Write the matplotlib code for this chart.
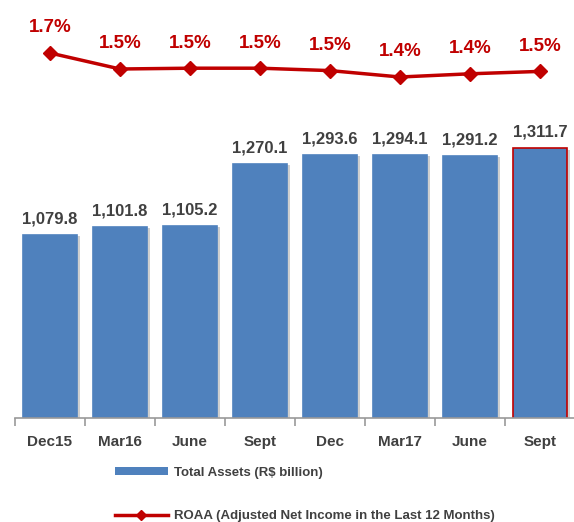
import numpy as np
import matplotlib.pyplot as plt
from matplotlib.lines import Line2D
from matplotlib.patches import Patch
import matplotlib.patheffects as pe

plt.rcParams['font.family'] = ['Liberation Sans', 'DejaVu Sans']
plt.rcParams['font.weight'] = 'bold'

# data
periods = ['Dec15', 'Mar16', 'June', 'Sept', 'Dec', 'Mar17', 'June', 'Sept']
assets = [1079.8, 1101.8, 1105.2, 1270.1, 1293.6, 1294.1, 1291.2, 1311.7]
roaa = [1.70, 1.50, 1.51, 1.51, 1.48, 1.40, 1.44, 1.47]
roaa_labels = ['1.7%', '1.5%', '1.5%', '1.5%', '1.5%', '1.4%', '1.4%', '1.5%']

blue = '#4F81BD'
red = '#C00000'
grey = '#404040'

fig = plt.figure(figsize=(5.74, 5.22), dpi=100)
ax = fig.add_axes([15/574, 1 - 418/522, 560/574, 418/522])
x = np.arange(len(periods))

edges = [blue] * (len(periods) - 1) + [red]
bars = ax.bar(x, assets, width=0.78, color=blue, edgecolor=edges, linewidth=1.2, zorder=2)
for b in bars:
    b.set_path_effects([pe.SimplePatchShadow(offset=(2, -1), shadow_rgbFace='#b0b0b0', alpha=0.6), pe.Normal()])
for xi, v in zip(x, assets):
    ax.annotate(f'{v:,.1f}', (xi, v), xytext=(0, 6), textcoords='offset points',
                ha='center', va='bottom', fontsize=12, color=grey, fontweight='bold')

ax.set_xlim(-0.5, 7.5)
ax.set_ylim(592, 592 + 418 / 0.375)
ax.set_yticks([])
ax.set_xticks(x)
ax.set_xticklabels(periods, fontsize=11, color=grey, fontweight='bold')
ax.set_xticks(np.arange(-0.5, 7.5, 1), minor=True)
ax.tick_params(axis='x', which='major', length=0, pad=12)
ax.tick_params(axis='x', which='minor', length=6, color='#999999', width=1.2)
for s in ['top', 'right', 'left']:
    ax.spines[s].set_visible(False)
ax.spines['bottom'].set_color('#999999')
ax.spines['bottom'].set_linewidth(1.2)

ax2 = ax.twinx()
top = 1.7 + 53 / 80
ax2.set_ylim(top - 418 / 80, top)
ax2.plot(x, roaa, color=red, lw=2.5, marker='D', ms=7, zorder=3)
for xi, v, lab in zip(x, roaa, roaa_labels):
    ax2.annotate(lab, (xi, v), xytext=(0, 12), textcoords='offset points',
                 ha='center', va='bottom', fontsize=13.5, color=red, fontweight='bold')
ax2.axis('off')

handles = [Patch(facecolor=blue, edgecolor='none'),
           Line2D([], [], color=red, lw=2.5, marker='D', ms=5)]
labels = ['Total Assets (R$ billion)', 'ROAA (Adjusted Net Income in the Last 12 Months)']
fig.legend(handles, labels, loc='upper left', bbox_to_anchor=(103/574, 1 - 455/522),
           frameon=False, fontsize=9.5, handlelength=4, handleheight=0.55,
           labelspacing=2.35, handletextpad=0.5, labelcolor=grey)

fig.savefig('out.png', dpi=100)
